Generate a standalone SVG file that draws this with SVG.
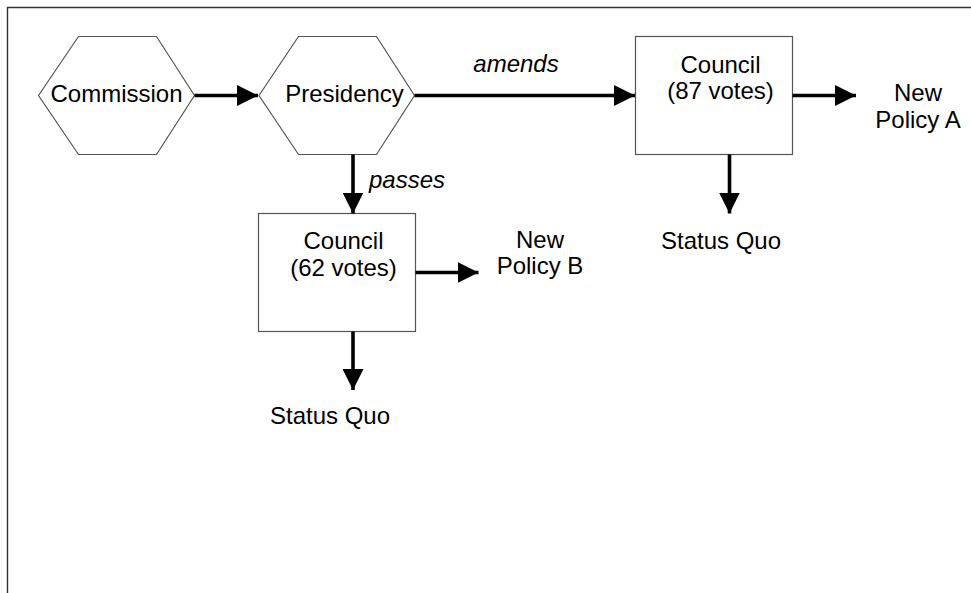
<svg xmlns="http://www.w3.org/2000/svg" width="971" height="593" viewBox="0 0 971 593">
  <style>
    text { font-family: "Liberation Sans", Arial, Helvetica, sans-serif; font-size: 24px; fill: #000; }
    .lbl { text-anchor: middle; }
    .it { font-style: italic; }
    .shape { fill: #fff; stroke: #555; stroke-width: 1.2; }
    .frame { fill: none; stroke: #333; stroke-width: 1.4; }
    .conn { fill: none; stroke: #000; stroke-width: 3.6; }
  </style>
  <defs>
    <marker id="ah" viewBox="0 0 21 21" refX="21" refY="10.5" markerWidth="21" markerHeight="21" markerUnits="userSpaceOnUse" orient="auto">
      <path d="M0,0 L21,10.5 L0,21 z" fill="#000"/>
    </marker>
  </defs>

  <rect width="971" height="593" fill="#fff"/>
  <!-- outer frame (open at right and bottom) -->
  <path class="frame" d="M7.5,593 V7.5 H971"/>

  <g id="commission">
    <polygon class="shape" points="38.5,95.5 78.5,36.5 156.5,36.5 194.5,95.5 156.5,154.5 78.5,154.5"/>
    <text class="lbl" x="116.5" y="101.5">Commission</text>
  </g>

  <g id="presidency">
    <polygon class="shape" points="259,95.5 298.5,36.5 376.5,36.5 414.5,95.5 376.5,154.5 298.5,154.5"/>
    <text class="lbl" x="344.5" y="101.5">Presidency</text>
  </g>

  <g id="council87">
    <rect class="shape" x="635.5" y="36.5" width="157" height="118"/>
    <text class="lbl" x="720.5" y="72.5">Council</text>
    <text class="lbl" x="720.5" y="98.5">(87 votes)</text>
  </g>

  <g id="council62">
    <rect class="shape" x="258.5" y="213.5" width="157" height="118"/>
    <text class="lbl" x="343.5" y="249">Council</text>
    <text class="lbl" x="343.5" y="275.5">(62 votes)</text>
  </g>

  <g id="policyA">
    <text class="lbl" x="918" y="101">New</text>
    <text class="lbl" x="918" y="127.5">Policy A</text>
  </g>

  <g id="statusQuoA">
    <text class="lbl" x="721" y="249">Status Quo</text>
  </g>

  <g id="policyB">
    <text class="lbl" x="540" y="247.5">New</text>
    <text class="lbl" x="540" y="274">Policy B</text>
  </g>

  <g id="statusQuoB">
    <text class="lbl" x="330" y="424">Status Quo</text>
  </g>

  <g id="connectors">
    <line class="conn" x1="194.5" y1="95.5" x2="258" y2="95.5" marker-end="url(#ah)"/>
    <line class="conn" x1="414.5" y1="95.5" x2="635" y2="95.5" marker-end="url(#ah)"/>
    <line class="conn" x1="353" y1="154.5" x2="353" y2="213.5" marker-end="url(#ah)"/>
    <line class="conn" x1="792.5" y1="95.5" x2="856" y2="95.5" marker-end="url(#ah)"/>
    <line class="conn" x1="729.5" y1="154.5" x2="729.5" y2="213.5" marker-end="url(#ah)"/>
    <line class="conn" x1="415.5" y1="272.5" x2="478.5" y2="272.5" marker-end="url(#ah)"/>
    <line class="conn" x1="353" y1="331.5" x2="353" y2="390" marker-end="url(#ah)"/>
    <text class="lbl it" x="516" y="71.5">amends</text>
    <text class="it" x="369" y="187.5">passes</text>
  </g>
</svg>
